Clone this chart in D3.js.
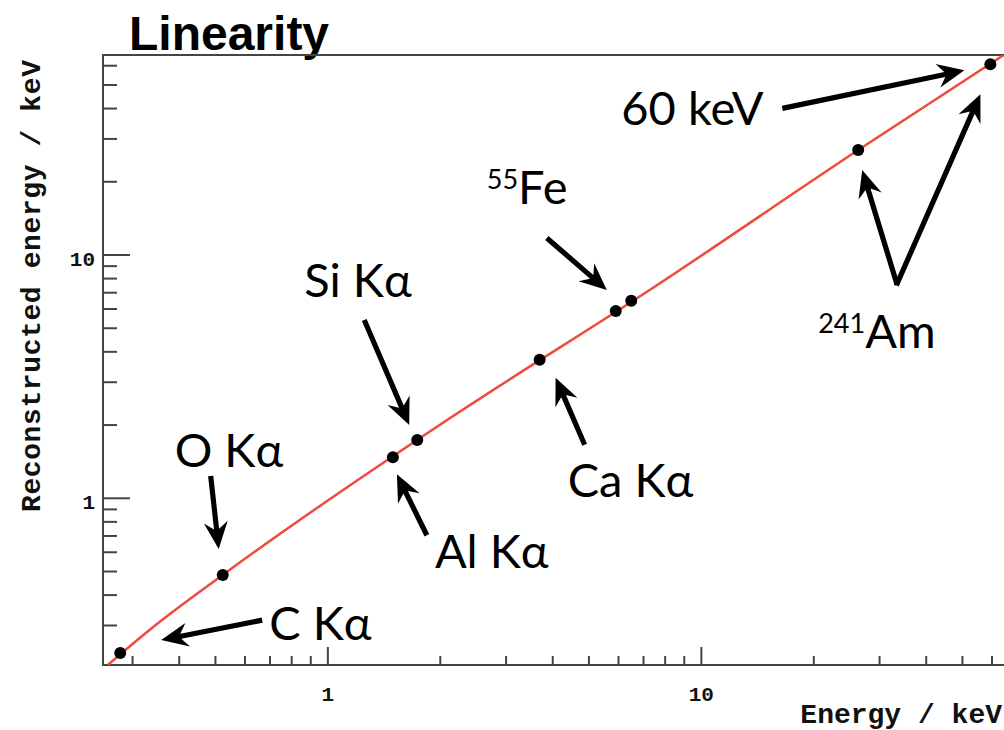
<!DOCTYPE html>
<html>
<head>
<meta charset="utf-8">
<script src="https://cdnjs.cloudflare.com/ajax/libs/d3/7.8.5/d3.min.js"></script>
<style>
  body { margin: 0; background: #fff; }
  svg { display: block; }
  .frame { fill: none; stroke: #444; stroke-width: 2; }
  .tick-line { stroke: #444; stroke-width: 2; }
  .tick-text { font-family: "Courier New", "Liberation Mono", monospace; font-weight: bold; font-size: 21px; fill: #111; }
  .axis-title { font-family: "Courier New", "Liberation Mono", monospace; font-weight: bold; font-size: 28px; fill: #111; }
  .title { font-family: "Liberation Sans", Arial, sans-serif; font-weight: bold; font-size: 48px; fill: #000; }
  .note { font-family: Lato, "Open Sans", "Noto Sans", sans-serif; font-size: 47px; fill: #000; }
  .note .sup { font-size: 27px; }
</style>
</head>
<body>
<svg width="1004" height="730"></svg>
<script>
// 数据：谱线、真实能量、重建能量
var lineNames = ['C Kα', 'O Kα', 'Al Kα', 'Si Kα', 'Ca Kα', '55Fe', '55Fe', '241Am', '241Am'];
var trueEnergy = [0.278, 0.523, 1.493, 1.735, 3.69, 5.90, 6.49, 26.3, 59.4];
var recoEnergy = [0.231, 0.484, 1.474, 1.736, 3.71, 5.89, 6.49, 27.0, 60.8];

// 拟合线
var fitTrue = [0.2575, 0.333, 0.523, 2.12, 7.27, 26.3, 64.5];
var fitReco = [0.2064, 0.2875, 0.484, 2.133, 7.18, 27.0, 66.4];

// 刻度
var xMajorTicks = [1, 10];
var xMinorTicks = [0.3, 0.4, 0.5, 0.6, 0.7, 0.8, 0.9, 2, 3, 4, 5, 6, 7, 8, 9, 20, 30, 40, 50, 60];
var yMajorTicks = [1, 10];
var yMinorTicks = [0.3, 0.4, 0.5, 0.6, 0.7, 0.8, 0.9, 2, 3, 4, 5, 6, 7, 8, 9, 20, 30, 40, 50, 60];

// 标注：pt 为数据点序号，其余为相对该点的像素偏移
var annotations = [
    { main: 'C Kα', pt: 0, text: [149, -13], arrows: [{ tip: [41, -13], tail: [142, -33] }] },
    { main: 'O Kα', pt: 1, text: [-48, -108], arrows: [{ tip: [-4, -26], tail: [-12, -99] }] },
    { main: 'Al Kα', pt: 2, text: [42, 111], arrows: [{ tip: [4, 17], tail: [34, 78] }] },
    { main: 'Si Kα', pt: 3, text: [-113, -143], arrows: [{ tip: [-8, -15], tail: [-53, -120] }] },
    { main: 'Ca Kα', pt: 4, text: [28, 137], arrows: [{ tip: [16, 18], tail: [45, 85] }] },
    { sup: '55', main: 'Fe', pt: 5, text: [-129, -107], arrows: [{ tip: [-9, -21], tail: [-69, -73] }] },
    { sup: '241', main: 'Am', pt: 7, text: [-40, 198], arrows: [{ tip: [4, 20], tail: [39, 135] }] },
    { main: '', pt: 8, text: [0, 0], arrows: [{ tip: [-10, 30], tail: [-94, 221] }] },
    { main: '60 keV', pt: 8, text: [-369, 61], arrows: [{ tip: [-26, 6], tail: [-208, 44] }] }
];

var width = 1004, height = 730;
var plotLeft = 103, plotTop = 55, plotBottom = 665, plotRight = 1017;

var svg = d3.select('svg');
svg.append('rect').attr('width', width).attr('height', height).attr('fill', '#fff');

var x = d3.scaleLog().domain([0.25, 70]).range([plotLeft, plotRight]);
var y = d3.scaleLog().domain([0.2064, 66.4]).range([plotBottom, plotTop]);

// 标题
svg.append('text').attr('class', 'title').attr('x', 129).attr('y', 50).text('Linearity');

// x 轴刻度
var tickG = svg.append('g');
tickG.selectAll('.xmaj').data(xMajorTicks).enter().append('line')
    .attr('class', 'tick-line')
    .attr('x1', function (d) { return x(d); }).attr('x2', function (d) { return x(d); })
    .attr('y1', plotBottom).attr('y2', plotBottom - 18);
tickG.selectAll('.xmin').data(xMinorTicks).enter().append('line')
    .attr('class', 'tick-line')
    .attr('x1', function (d) { return x(d); }).attr('x2', function (d) { return x(d); })
    .attr('y1', plotBottom).attr('y2', plotBottom - 9);
tickG.selectAll('.xlab').data(xMajorTicks).enter().append('text')
    .attr('class', 'tick-text')
    .attr('text-anchor', 'middle')
    .attr('x', function (d) { return x(d); })
    .attr('y', plotBottom + 36)
    .text(function (d) { return d; });

// y 轴刻度
tickG.selectAll('.ymaj').data(yMajorTicks).enter().append('line')
    .attr('class', 'tick-line')
    .attr('y1', function (d) { return y(d); }).attr('y2', function (d) { return y(d); })
    .attr('x1', plotLeft).attr('x2', plotLeft + 27);
tickG.selectAll('.ymin').data(yMinorTicks).enter().append('line')
    .attr('class', 'tick-line')
    .attr('y1', function (d) { return y(d); }).attr('y2', function (d) { return y(d); })
    .attr('x1', plotLeft).attr('x2', plotLeft + 14);
tickG.selectAll('.ylab').data(yMajorTicks).enter().append('text')
    .attr('class', 'tick-text')
    .attr('text-anchor', 'end')
    .attr('x', 95)
    .attr('y', function (d) { return y(d) + 11; })
    .text(function (d) { return d; });

// 外框
svg.append('path').attr('class', 'frame')
    .attr('d', 'M' + (plotRight + 5) + ',' + plotTop + 'H' + plotLeft + 'V' + plotBottom + 'H' + (plotRight + 5));

// 轴标题
svg.append('text').attr('class', 'axis-title')
    .attr('text-anchor', 'end')
    .attr('x', 1002).attr('y', 723)
    .text('Energy / keV');
svg.append('text').attr('class', 'axis-title')
    .attr('transform', 'translate(40,512) rotate(-90)')
    .attr('x', 0).attr('y', 0)
    .attr('textLength', 452)
    .text('Reconstructed energy / keV');

// 拟合线
svg.append('clipPath').attr('id', 'plotclip')
    .append('rect').attr('x', plotLeft).attr('y', plotTop)
    .attr('width', plotRight - plotLeft).attr('height', plotBottom - plotTop);

var fitLine = d3.line()
    .x(function (d) { return x(d[0]); })
    .y(function (d) { return y(d[1]); })
    .curve(d3.curveMonotoneX);
svg.append('path')
    .attr('clip-path', 'url(#plotclip)')
    .attr('d', fitLine(d3.zip(fitTrue, fitReco)))
    .attr('fill', 'none')
    .attr('stroke', '#ee4b3c')
    .attr('stroke-width', 2.5);

// 数据点
svg.append('g').selectAll('circle')
    .data(d3.zip(trueEnergy, recoEnergy))
    .enter()
        .append('circle')
        .attr('cx', function (d) { return x(d[0]); })
        .attr('cy', function (d) { return y(d[1]); })
        .attr('r', 6)
        .attr('fill', '#000');

// 箭头
function arrowPath(x1, y1, x2, y2) {
    var dx = x2 - x1, dy = y2 - y1;
    var len = Math.sqrt(dx * dx + dy * dy);
    var ux = dx / len, uy = dy / len;
    var nx = -uy, ny = ux;
    var headLen = 27, headHalf = 12, notch = 7, shaft = 2.6;
    var bx = x2 - ux * headLen, by = y2 - uy * headLen;
    var mx = bx + ux * notch, my = by + uy * notch;
    var pts = [
        [x1 + nx * shaft, y1 + ny * shaft],
        [mx + nx * shaft, my + ny * shaft],
        [bx + nx * headHalf, by + ny * headHalf],
        [x2, y2],
        [bx - nx * headHalf, by - ny * headHalf],
        [mx - nx * shaft, my - ny * shaft],
        [x1 - nx * shaft, y1 - ny * shaft]
    ];
    return 'M' + pts.map(function (p) { return p[0].toFixed(1) + ',' + p[1].toFixed(1); }).join('L') + 'Z';
}

var noteG = svg.append('g');
annotations.forEach(function (a) {
    var px = x(trueEnergy[a.pt]), py = y(recoEnergy[a.pt]);
    a.arrows.forEach(function (ar) {
        noteG.append('path')
            .attr('d', arrowPath(px + ar.tail[0], py + ar.tail[1], px + ar.tip[0], py + ar.tip[1]))
            .attr('fill', '#000');
    });
    if (a.main) {
        var t = noteG.append('text').attr('class', 'note')
            .attr('x', px + a.text[0]).attr('y', py + a.text[1]);
        if (a.sup) {
            t.append('tspan').attr('class', 'sup').attr('dy', -15).text(a.sup);
            t.append('tspan').attr('dy', 15).text(a.main);
        } else {
            t.text(a.main);
        }
    }
});
</script>
</body>
</html>
